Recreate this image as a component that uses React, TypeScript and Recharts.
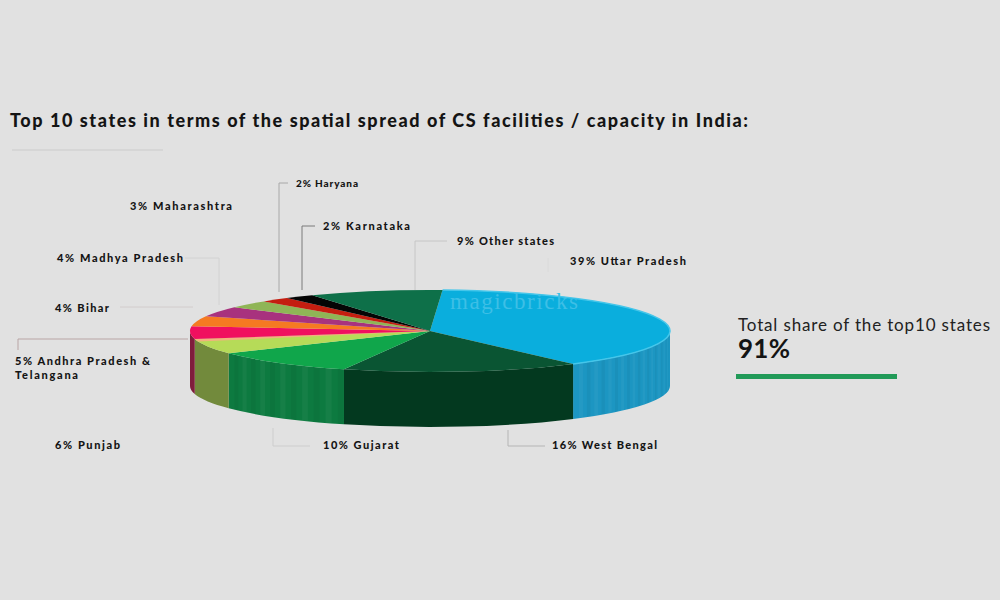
import React from "react";
import { PieChart, Pie } from "recharts";

const states = ["Uttar Pradesh", "West Bengal", "Gujarat", "Punjab", "Andhra Pradesh &", "Bihar", "Madhya Pradesh", "Maharashtra", "Haryana", "Karnataka", "Other states"];
const shares = [39, 16, 10, 6, 5, 4, 4, 3, 2, 2, 9];
const topColors = ["#0aaedd", "#0a5533", "#10a64b", "#b6db58", "#f0105f", "#f57a22", "#a8327e", "#8fb556", "#c41e10", "#050505", "#0e7049"];
const wallColors = ["#1c96c2", "#03391f", "#0d7a40", "#728a3c", "#7f1d3c", "#7f1d3c", "#7f1d3c", "#7f1d3c", "#7f1d3c", "#7f1d3c", "#7f1d3c"];

const title = "Top 10 states in terms of the spatial spread of CS facilities / capacity in India:";
const sideCaption = "Total share of the top10 states";
const sideValue = "91%";
const watermark = "magicbricks";

const CX = 430;
const CY = 331;
const RX = 240;
const RY = 41;
const DEPTH = 55;
const FONT = "Lato, 'Noto Sans', sans-serif";
const INK = "#141414";

// label placement per slice: x, baseline y, text width, font size, and leader-line points
type Place = { x: number; y: number; w: number; size?: number; line?: string; lineColor?: string };
const places: Place[] = [
  { x: 570, y: 265, w: 116, line: "548,258 548,272", lineColor: "#dadada" },
  { x: 552, y: 449, w: 105, line: "508,430 508,446 545,446", lineColor: "#b5b5b5" },
  { x: 323, y: 449, w: 76, line: "273,428 273,446 310,446", lineColor: "#cdcdcd" },
  { x: 55, y: 449, w: 65 },
  { x: 15, y: 365, w: 135, line: "18,350 18,339 188,339", lineColor: "#b9a5a5" },
  { x: 55, y: 312, w: 54, line: "120,307 193,307", lineColor: "#d2cccc" },
  { x: 57, y: 262, w: 126, line: "185,258 219,258 219,305", lineColor: "#d2d2d2" },
  { x: 130, y: 210, w: 102 },
  { x: 296, y: 187, w: 62, size: 10, line: "288,183 279,183 279,292", lineColor: "#a8a8a8" },
  { x: 323, y: 230, w: 87, line: "315,226 302,226 302,290", lineColor: "#7a7a7a" },
  { x: 457, y: 245, w: 97, line: "447,241 415,241 415,290", lineColor: "#c6c6c6" },
];

const tableRows = states.map((name, i) => ({ name, value: shares[i] }));

const pt = (deg: number, dy = 0) => {
  const a = (deg * Math.PI) / 180;
  return { x: RX * Math.cos(a), y: -RY * Math.sin(a) + dy };
};

const wallPath = (cx: number, cy: number, a1: number, a2: number) => {
  const p1 = pt(a1);
  const p2 = pt(a2);
  return `M${cx + p1.x},${cy + p1.y} A${RX},${RY} 0 0 1 ${cx + p2.x},${cy + p2.y} L${cx + p2.x},${cy + p2.y + DEPTH} A${RX},${RY} 0 0 0 ${cx + p1.x},${cy + p1.y + DEPTH} Z`;
};

const WallShape = (props: any) => {
  const { cx, cy, startAngle, endAngle, index } = props;
  const hi = Math.min(Math.max(startAngle, endAngle), 0);
  const lo = Math.max(Math.min(startAngle, endAngle), -180);
  if (hi <= lo) return <g />;
  const strips: React.ReactNode[] = [];
  if (index === 0 || index === 2) {
    const step = index === 0 ? 2.4 : 3.2;
    let k = 0;
    for (let a = hi; a > lo + step; a -= step) {
      strips.push(
        <path key={k} d={wallPath(cx, cy, a, a - step / 2)} fill={k % 2 ? "#ffffff" : "#000000"} fillOpacity={0.04} />
      );
      k++;
    }
  }
  return (
    <g>
      <path d={wallPath(cx, cy, hi, lo)} fill={wallColors[index]} />
      {strips}
    </g>
  );
};

const wedge = (cx: number, cy: number, a1: number, a2: number) => {
  const p1 = pt(a1);
  const p2 = pt(a2);
  const large = Math.abs(a1 - a2) > 180 ? 1 : 0;
  return `M${cx},${cy} L${cx + p1.x},${cy + p1.y} A${RX},${RY} 0 ${large} 1 ${cx + p2.x},${cy + p2.y} Z`;
};

const rim = (cx: number, cy: number, a1: number, a2: number) => {
  const p1 = pt(a1);
  const p2 = pt(a2);
  const large = Math.abs(a1 - a2) > 180 ? 1 : 0;
  return `M${cx + p1.x},${cy + p1.y} A${RX},${RY} 0 ${large} 1 ${cx + p2.x},${cy + p2.y}`;
};

const TopShape = (props: any) => {
  const { cx, cy, startAngle, endAngle, index } = props;
  return (
    <g>
      <path d={wedge(cx, cy, startAngle, endAngle)} fill={topColors[index]} />
      {index === 3 && <path d={wedge(cx, cy, endAngle + 3.5, endAngle)} fill="#f2b27e" />}
      {index === 0 && <path d={rim(cx, cy, startAngle, endAngle)} fill="none" stroke="#45c6ea" strokeWidth={1.5} />}
    </g>
  );
};

const SliceLabel = (props: any) => {
  const { index } = props;
  const p = places[index];
  const text = `${shares[index]}% ${states[index]}`;
  return (
    <g>
      <text x={p.x} y={p.y} textLength={p.w} lengthAdjust="spacing" fontFamily={FONT} fontWeight={900} fontSize={p.size ?? 11} fill={INK}>
        {text}
      </text>
      {index === 4 && (
        <text x={p.x} y={p.y + 14} textLength={63} lengthAdjust="spacing" fontFamily={FONT} fontWeight={900} fontSize={11} fill={INK}>
          Telangana
        </text>
      )}
      {index === 0 && (
        <text x={450} y={309} textLength={128} lengthAdjust="spacing" fontFamily="'Liberation Serif', serif" fontSize={23} fill="#3dbfe6">
          {watermark}
        </text>
      )}
    </g>
  );
};

const SliceLine = (props: any) => {
  const p = places[props.index];
  if (!p.line) return <g />;
  return <polyline points={p.line} fill="none" stroke={p.lineColor} strokeWidth={1} />;
};

export default function App() {
  return (
    <div style={{ position: "absolute", left: 0, top: 0, width: 1000, height: 600, background: "#e1e1e1", overflow: "hidden" }}>
      <PieChart width={1000} height={600} margin={{ top: 0, right: 0, bottom: 0, left: 0 }}>
        <Pie
          data={tableRows}
          dataKey="value"
          nameKey="name"
          cx={CX}
          cy={CY}
          innerRadius={0}
          outerRadius={RX}
          startAngle={87}
          endAngle={-273}
          paddingAngle={0}
          isAnimationActive={false}
          shape={WallShape}
          legendType="none"
        />
        <Pie
          data={tableRows}
          dataKey="value"
          nameKey="name"
          cx={CX}
          cy={CY}
          innerRadius={0}
          outerRadius={RX}
          startAngle={87}
          endAngle={-273}
          paddingAngle={0}
          isAnimationActive={false}
          shape={TopShape}
          label={SliceLabel}
          labelLine={SliceLine}
          legendType="none"
        />
        <text x={10} y={127} textLength={738} lengthAdjust="spacing" fontFamily={FONT} fontWeight={900} fontSize={18} fill={INK}>
          {title}
        </text>
        <line x1={12} y1={150} x2={163} y2={150} stroke="#cbcbcb" strokeWidth={1} />
        <text x={738} y={331} textLength={252} lengthAdjust="spacing" fontFamily={FONT} fontSize={17} fill="#222222">
          {sideCaption}
        </text>
        <text x={738} y={358} textLength={52} lengthAdjust="spacing" fontFamily={FONT} fontWeight={700} fontSize={26} fill={INK}>
          {sideValue}
        </text>
        <rect x={736} y={374} width={161} height={5} fill="#219a58" />
      </PieChart>
    </div>
  );
}
